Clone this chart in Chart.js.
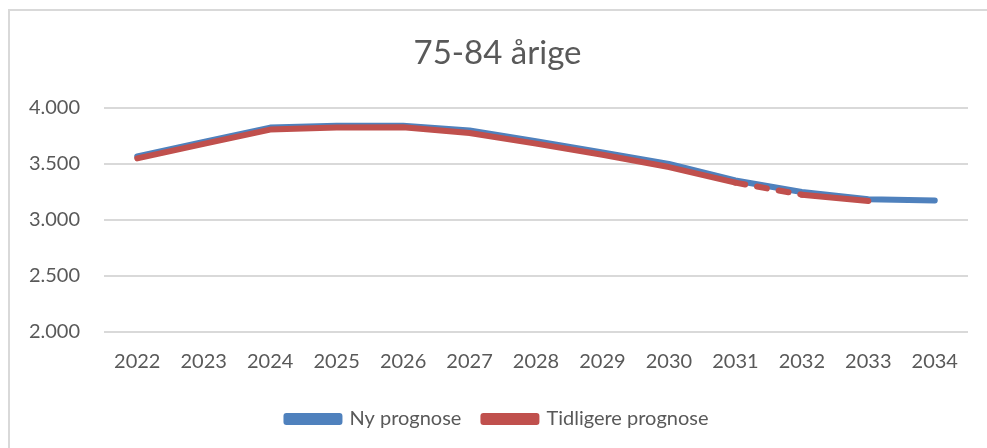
<!DOCTYPE html>
<html>
<head>
<meta charset="utf-8">
<script src="https://cdn.jsdelivr.net/npm/chart.js@4"></script>
<style>
  html, body { margin: 0; padding: 0; background: #fff; }
  #wrap { position: relative; width: 987px; height: 448px; }
</style>
</head>
<body>
<div id="wrap"><canvas id="chart" width="987" height="448"></canvas></div>
<script>
const years = ['2022', '2023', '2024', '2025', '2026', '2027', '2028', '2029', '2030', '2031', '2032', '2033', '2034'];
const nyPrognose = [3564, 3693, 3822, 3838, 3838, 3796, 3700, 3600, 3498, 3350, 3248, 3184, 3172];
const tidligerePrognose = [3547, 3677, 3804, 3822, 3824, 3774, 3679, 3580, 3470, 3331, 3224, 3167, null];
const yTicks = [2000, 2500, 3000, 3500, 4000];

const textColor = '#595959';
const fontFamily = 'Lato, "Open Sans", sans-serif';

// light frame around the chart like in the Excel export
const framePlugin = {
    id: 'frame',
    beforeDraw(chart) {
        const c = chart.ctx;
        c.save();
        c.fillStyle = '#fff';
        c.fillRect(0, 0, chart.width, chart.height);
        c.strokeStyle = '#d9d9d9';
        c.lineWidth = 2;
        c.strokeRect(9, 10, 1000, 460);
        c.restore();
    }
};

function formatThousands(v) {
    return String(v).replace(/\B(?=(\d{3})+(?!\d))/g, '.');
}

new Chart(document.getElementById('chart').getContext('2d'), {
    type: 'line',
    data: {
        labels: years,
        datasets: [
            {
                label: 'Ny prognose',
                data: nyPrognose,
                borderColor: '#4f81bd',
                backgroundColor: '#4f81bd',
                borderWidth: 6,
                borderCapStyle: 'round',
                borderJoinStyle: 'round',
                pointRadius: 0,
                tension: 0,
                fill: false,
                order: 1
            },
            {
                label: 'Tidligere prognose',
                data: tidligerePrognose,
                borderColor: '#c0504d',
                backgroundColor: '#c0504d',
                borderWidth: 6,
                borderCapStyle: 'round',
                borderJoinStyle: 'round',
                pointRadius: 0,
                tension: 0,
                fill: false,
                order: 0,
                segment: {
                    borderDash: ctx => ctx.p0DataIndex === 9 ? [10, 12] : undefined
                }
            }
        ]
    },
    options: {
        responsive: false,
        animation: false,
        layout: { padding: { left: 27, right: 19, top: 34, bottom: 9 } },
        plugins: {
            title: {
                display: true,
                text: '75-84 årige',
                color: textColor,
                font: { family: fontFamily, size: 33, weight: 'normal' },
                padding: { top: 0, bottom: 34 }
            },
            legend: {
                position: 'bottom',
                labels: {
                    sort: (a, b) => a.datasetIndex - b.datasetIndex,
                    color: textColor,
                    font: { family: fontFamily, size: 20 },
                    boxWidth: 53,
                    boxHeight: 6,
                    padding: 22
                }
            },
            tooltip: { enabled: false }
        },
        scales: {
            x: {
                offset: true,
                grid: { display: false, drawTicks: false },
                border: { display: false },
                afterFit: axis => { axis.height -= 5; },
                ticks: {
                    color: textColor,
                    font: { family: fontFamily, size: 20 },
                    padding: 18,
                    maxRotation: 0
                }
            },
            y: {
                min: 2000,
                max: 4000,
                afterBuildTicks: axis => { axis.ticks = yTicks.map(v => ({ value: v })); },
                afterFit: axis => { axis.width = 77; },
                grid: { color: '#d9d9d9', lineWidth: 2, drawTicks: false },
                border: { display: false },
                ticks: {
                    color: textColor,
                    font: { family: fontFamily, size: 20 },
                    padding: 24,
                    callback: v => formatThousands(v)
                }
            }
        }
    },
    plugins: [framePlugin]
});
</script>
</body>
</html>
